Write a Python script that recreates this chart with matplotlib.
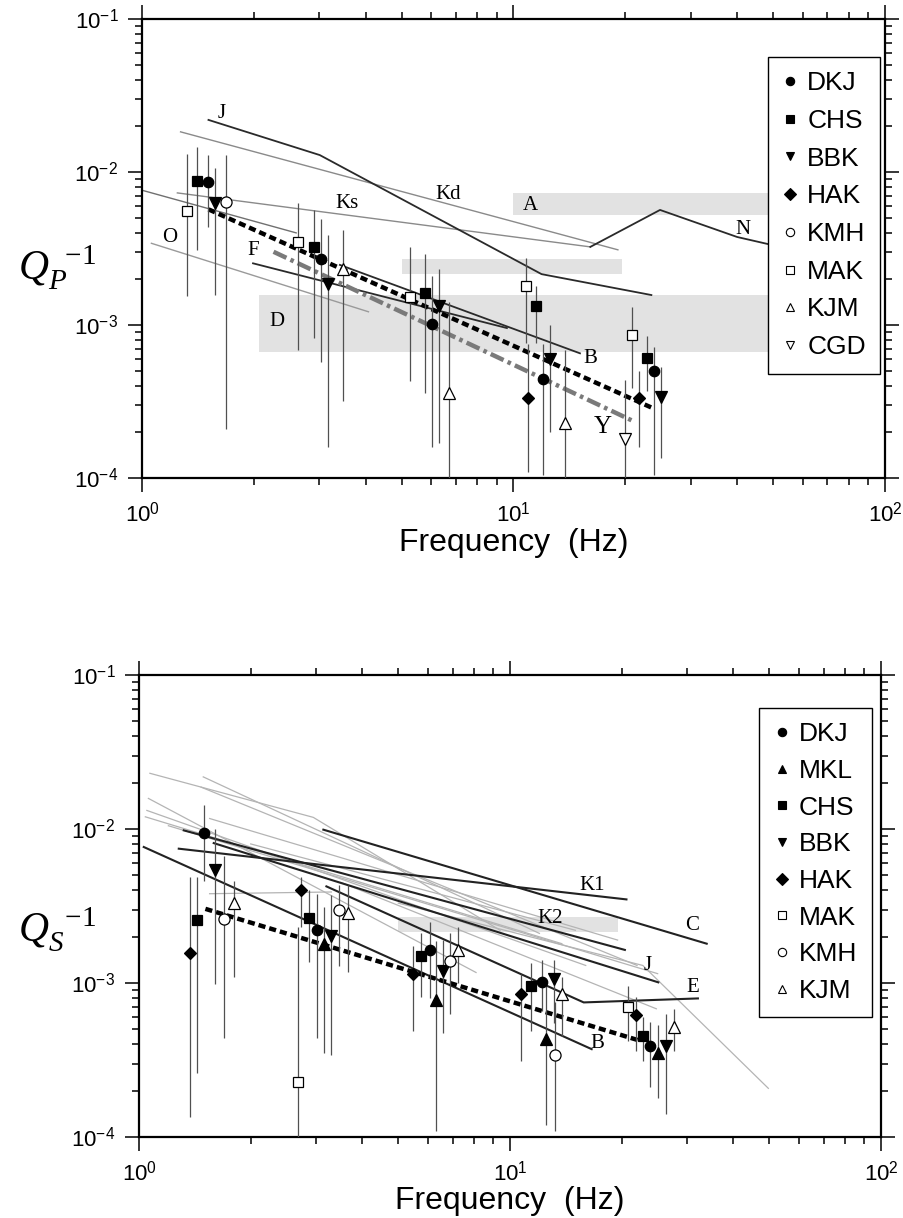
import numpy as np
import matplotlib
matplotlib.use('Agg')
import matplotlib.pyplot as plt
from matplotlib.lines import Line2D
from matplotlib.ticker import LogLocator, FuncFormatter, NullFormatter

plt.rcParams['font.family'] = ['Liberation Sans', 'DejaVu Sans']
plt.rcParams['mathtext.fontset'] = 'custom'
plt.rcParams['mathtext.rm'] = 'Liberation Serif'
plt.rcParams['mathtext.it'] = 'Liberation Serif:italic'
plt.rcParams['mathtext.sf'] = 'Liberation Sans'

# ---------------- TOP PANEL (Qp^-1) data ----------------
p_DKJ_f = [1.51, 3.03, 6.02, 11.98, 23.9]
p_DKJ_q = [8.65e-3, 2.7e-3, 1.02e-3, 4.41e-4, 5.0e-4]
p_DKJ_lo = [4.4e-3, 5.7e-4, 1.6e-4, 1.05e-4, 1.05e-4]
p_DKJ_hi = [1.29e-2, 4.9e-3, 2.1e-3, 7.5e-4, 7.2e-4]

p_CHS_f = [1.41, 2.90, 5.78, 11.5, 22.9]
p_CHS_q = [8.73e-3, 3.25e-3, 1.61e-3, 1.34e-3, 6.1e-4]
p_CHS_lo = [3.09e-3, 8.2e-4, 3.6e-4, 7.6e-4, 3.7e-4]
p_CHS_hi = [1.46e-2, 5.65e-3, 2.9e-3, 1.8e-3, 8.5e-4]

p_BBK_f = [1.57, 3.17, 6.31, 12.5, 25.0]
p_BBK_q = [6.24e-3, 1.85e-3, 1.33e-3, 5.97e-4, 3.37e-4]
p_BBK_lo = [1.57e-3, 1.6e-4, 1.7e-4, 2.0e-4, 1.36e-4]
p_BBK_hi = [1.06e-2, 3.9e-3, 2.34e-3, 1.0e-3, 5.3e-4]

p_HAK_f = [10.96, 21.8]
p_HAK_q = [3.35e-4, 3.32e-4]
p_HAK_lo = [1.1e-4, 1.6e-4]
p_HAK_hi = [7.5e-4, 5.0e-4]

p_KMH_f = [1.68]
p_KMH_q = [6.4e-3]
p_KMH_lo = [2.1e-4]
p_KMH_hi = [1.29e-2]

p_MAK_f = [1.32, 2.63, 5.27, 10.8, 20.9]
p_MAK_q = [5.56e-3, 3.51e-3, 1.52e-3, 1.8e-3, 8.6e-4]
p_MAK_lo = [1.54e-3, 6.9e-4, 4.3e-4, 7.6e-4, 3.9e-4]
p_MAK_hi = [1.32e-2, 6.24e-3, 3.25e-3, 2.75e-3, 1.32e-3]

p_KJM_f = [3.48, 6.72, 13.8]
p_KJM_q = [2.31e-3, 3.58e-4, 2.3e-4]
p_KJM_lo = [3.2e-4, 1.0e-4, 1.0e-4]
p_KJM_hi = [4.2e-3, 1.42e-3, 6.9e-4]

p_CGD_f = [19.9]
p_CGD_q = [1.79e-4]
p_CGD_lo = [1.0e-4]
p_CGD_hi = [4.4e-4]

# reference models (top)
p_J_f = [1.51, 3.01, 11.9, 23.5]
p_J_q = [2.19e-2, 1.29e-2, 2.15e-3, 1.57e-3]
p_Kd_f = [1.27, 19.1]
p_Kd_q = [1.83e-2, 3.1e-3]
p_Ks_f = [1.245, 16.1]
p_Ks_q = [7.3e-3, 3.24e-3]
p_N_f = [16.1, 24.8, 40.0, 60.0]
p_N_q = [3.24e-3, 5.65e-3, 3.76e-3, 3.0e-3]
p_O1_f = [1.0, 2.6]
p_O1_q = [7.6e-3, 4.0e-3]
p_O2_f = [1.06, 4.07]
p_O2_q = [3.42e-3, 1.22e-3]
p_F_f = [1.99, 9.6]
p_F_q = [2.53e-3, 9.55e-4]
p_B_f = [3.41, 15.1]
p_B_q = [2.47e-3, 6.53e-4]
p_fit_f = [1.51, 23.8]
p_fit_q = [5.7e-3, 2.85e-4]
p_Y_f = [2.26, 21.2]
p_Y_q = [3.01e-3, 2.33e-4]

# shaded ranges (top): f_min, f_max, q_min, q_max
p_band_A = [10.0, 50.0, 5.2e-3, 7.3e-3]
p_band_2 = [5.0, 19.6, 2.15e-3, 2.7e-3]
p_band_D = [2.07, 50.0, 6.7e-4, 1.57e-3]

# label positions (top)
p_lab_text = ['J', 'Ks', 'Kd', 'A', 'N', 'O', 'F', 'D', 'B', 'Y']
p_lab_f = [1.64, 3.56, 6.66, 11.1, 41.5, 1.19, 1.99, 2.31, 16.1, 17.4]
p_lab_q = [2.43e-2, 6.18e-3, 7.18e-3, 6.08e-3, 4.18e-3, 3.71e-3, 3.05e-3, 1.05e-3, 6.0e-4, 2.16e-4]

# ---------------- BOTTOM PANEL (Qs^-1) data ----------------
s_DKJ_f = [1.5, 3.01, 6.09, 12.2, 23.9]
s_DKJ_q = [9.42e-3, 2.22e-3, 1.64e-3, 1.01e-3, 3.87e-4]
s_DKJ_lo = [4.6e-3, 4.4e-4, 8.0e-4, 6.6e-4, 2.1e-4]
s_DKJ_hi = [1.43e-2, 3.8e-3, 2.48e-3, 1.4e-3, 5.6e-4]

s_MKL_f = [3.15, 6.3, 12.5, 25.0]
s_MKL_q = [1.8e-3, 7.76e-4, 4.3e-4, 3.49e-4]
s_MKL_lo = [3.5e-4, 1.1e-4, 1.2e-4, 1.8e-4]
s_MKL_hi = [3.1e-3, 1.88e-3, 9.5e-4, 5.3e-4]

s_CHS_f = [1.43, 2.87, 5.75, 11.4, 22.9]
s_CHS_q = [2.58e-3, 2.65e-3, 1.49e-3, 9.5e-4, 4.55e-4]
s_CHS_lo = [2.6e-4, 1.37e-3, 8.1e-4, 4.9e-4, 3.1e-4]
s_CHS_hi = [4.88e-3, 4.0e-3, 2.1e-3, 1.35e-3, 6.0e-4]

s_BBK_f = [1.60, 3.29, 6.59, 13.1, 26.3]
s_BBK_q = [5.45e-3, 2.03e-3, 1.19e-3, 1.06e-3, 3.92e-4]
s_BBK_lo = [9.8e-4, 3.4e-4, 4.7e-4, 5.5e-4, 1.4e-4]
s_BBK_hi = [1.0e-2, 3.7e-3, 1.9e-3, 1.4e-3, 6.3e-4]

s_HAK_f = [1.37, 2.73, 5.47, 10.7, 21.9]
s_HAK_q = [1.57e-3, 3.99e-3, 1.15e-3, 8.5e-4, 6.2e-4]
s_HAK_lo = [1.34e-4, 2.3e-3, 4.9e-4, 3.1e-4, 3.6e-4]
s_HAK_hi = [4.88e-3, 4.9e-3, 1.75e-3, 1.15e-3, 8.1e-4]

s_MAK_f = [2.68, 20.8]
s_MAK_q = [2.26e-4, 6.95e-4]
s_MAK_lo = [1.0e-4, 4.2e-4]
s_MAK_hi = [2.3e-3, 9.6e-4]

s_KMH_f = [1.69, 3.45, 6.89, 13.2]
s_KMH_q = [2.61e-3, 2.96e-3, 1.38e-3, 3.4e-4]
s_KMH_lo = [4.4e-4, 1.28e-3, 6.3e-4, 1.1e-4]
s_KMH_hi = [6.7e-3, 4.3e-3, 2.1e-3, 7.5e-4]

s_KJM_f = [1.80, 3.67, 7.26, 13.8, 27.6]
s_KJM_q = [3.33e-3, 2.85e-3, 1.64e-3, 8.5e-4, 5.15e-4]
s_KJM_lo = [1.09e-3, 1.18e-3, 1.0e-3, 4.5e-4, 3.6e-4]
s_KJM_hi = [4.6e-3, 4.3e-3, 2.3e-3, 1.1e-3, 6.8e-4]

# reference models (bottom) - dark
s_K1_f = [1.28, 20.6]
s_K1_q = [7.45e-3, 3.49e-3]
s_K2_f = [1.32, 20.4]
s_K2_q = [9.8e-3, 1.64e-3]
s_C_f = [3.14, 33.9]
s_C_q = [9.9e-3, 1.8e-3]
s_J_f = [1.59, 25.1]
s_J_q = [8.1e-3, 1.01e-3]
s_E_f = [3.2, 15.8, 32.1]
s_E_q = [4.24e-3, 7.48e-4, 7.94e-4]
s_B_f = [1.03, 16.6]
s_B_q = [7.64e-3, 3.72e-4]
s_fit_f = [1.51, 22.4]
s_fit_q = [3.03e-3, 4.22e-4]

# reference models (bottom) - light grey bundle
s_g1_f = [1.07, 2.95, 9.4]
s_g1_q = [2.3e-2, 1.19e-2, 2.2e-3]
s_g2_f = [1.49, 12.0]
s_g2_q = [2.18e-2, 2.1e-3]
s_g3_f = [1.47, 22.0]
s_g3_q = [1.87e-2, 1.3e-3]
s_g4_f = [1.06, 8.1]
s_g4_q = [1.58e-2, 1.17e-3]
s_g5_f = [1.05, 16.0]
s_g5_q = [1.32e-2, 1.3e-3]
s_g6_f = [1.04, 13.8]
s_g6_q = [1.2e-2, 1.8e-3]
s_g7_f = [1.55, 19.5]
s_g7_q = [1.17e-2, 1.9e-3]
s_g8_f = [1.55, 3.3]
s_g8_q = [3.8e-3, 3.9e-3]
s_g9_f = [1.2, 25.0]
s_g9_q = [1.05e-2, 1.15e-3]
s_g10_f = [2.0, 15.0]
s_g10_q = [8.0e-3, 2.2e-3]
s_g11_f = [5.0, 22.8, 49.7]
s_g11_q = [3.3e-3, 1.3e-3, 2.07e-4]
s_g12_f = [3.5, 24.8]
s_g12_q = [4.5e-3, 6.8e-4]

s_band_K2 = [5.0, 19.6, 2.14e-3, 2.67e-3]

s_lab_text = ['K1', 'K2', 'C', 'J', 'E', 'B']
s_lab_f = [16.6, 12.8, 30.9, 23.5, 31.1, 17.2]
s_lab_q = [4.31e-3, 2.62e-3, 2.36e-3, 1.30e-3, 9.33e-4, 4.04e-4]

# ---------------- styling helpers ----------------
STYLE = {
    'DKJ': dict(marker='o', mfc='black', ms=7.5),
    'CHS': dict(marker='s', mfc='black', ms=7),
    'BBK': dict(marker='v', mfc='black', ms=8.5),
    'HAK': dict(marker='D', mfc='black', ms=6.5),
    'KMH': dict(marker='o', mfc='white', ms=8),
    'MAK': dict(marker='s', mfc='white', ms=7.5),
    'KJM': dict(marker='^', mfc='white', ms=9),
    'CGD': dict(marker='v', mfc='white', ms=9),
    'MKL': dict(marker='^', mfc='black', ms=8.5),
}


def plot_station(ax, name, f, q, lo, hi):
    ax.vlines(f, lo, hi, color='#505050', lw=0.9, zorder=4)
    st = STYLE[name]
    ax.plot(f, q, ls='none', marker=st['marker'], mfc=st['mfc'], mec='black',
            mew=0.9, ms=st['ms'], zorder=6)


def band(ax, b):
    ax.fill_between([b[0], b[1]], [b[2], b[2]], [b[3], b[3]], color='#e2e2e2',
                    lw=0, zorder=0)


def style_axes(ax):
    ax.set_xscale('log')
    ax.set_yscale('log')
    ax.set_xlim(1, 100)
    ax.set_ylim(1e-4, 1e-1)
    for s in ax.spines.values():
        s.set_linewidth(1.6)
    fmt = FuncFormatter(lambda v, p: r'$\mathsf{10}^{\mathsf{%d}}$' % int(round(np.log10(v))))
    ax.xaxis.set_major_locator(LogLocator(base=10, numticks=10))
    ax.yaxis.set_major_locator(LogLocator(base=10, numticks=10))
    ax.xaxis.set_minor_locator(LogLocator(base=10, subs=np.arange(2, 10), numticks=10))
    ax.yaxis.set_minor_locator(LogLocator(base=10, subs=np.arange(2, 10), numticks=10))
    ax.xaxis.set_major_formatter(fmt)
    ax.yaxis.set_major_formatter(fmt)
    ax.xaxis.set_minor_formatter(NullFormatter())
    ax.yaxis.set_minor_formatter(NullFormatter())
    ax.tick_params(which='both', direction='out', top=True, right=True,
                   labelsize=16, width=1.1)
    ax.tick_params(which='major', length=10, pad=7)
    ax.tick_params(which='minor', length=5)
    ax.set_xlabel('Frequency  (Hz)', fontsize=23, labelpad=1)


def make_legend(ax, names, anchor, spacing):
    handles = []
    for n in names:
        st = STYLE[n]
        handles.append(Line2D([], [], ls='none', marker=st['marker'], mfc=st['mfc'],
                              mec='black', mew=0.8, ms=6))
    leg = ax.legend(handles, names, loc='upper left', bbox_to_anchor=anchor,
                    borderaxespad=0, fontsize=19, frameon=True, fancybox=False,
                    edgecolor='black', framealpha=1, handlelength=0.6,
                    handletextpad=0.35, labelspacing=spacing, borderpad=0.55)
    leg.get_frame().set_linewidth(1.0)
    leg.set_zorder(20)
    return leg


fig = plt.figure(figsize=(9.04, 12.18), dpi=100)
ax1 = fig.add_axes([142 / 904, 1 - 478 / 1218, 743 / 904, 459 / 1218])
ax2 = fig.add_axes([139 / 904, 1 - 1137 / 1218, 742 / 904, 462 / 1218])

# ---------- top ----------
ax = ax1
band(ax, p_band_A)
band(ax, p_band_2)
band(ax, p_band_D)
ax.plot(p_J_f, p_J_q, color='#2a2a2a', lw=1.3, zorder=2)
ax.plot(p_Kd_f, p_Kd_q, color='#8a8a8a', lw=1.0, zorder=1)
ax.plot(p_Ks_f, p_Ks_q, color='#8a8a8a', lw=1.0, zorder=1)
ax.plot(p_N_f, p_N_q, color='#2a2a2a', lw=1.3, zorder=2)
ax.plot(p_O1_f, p_O1_q, color='#707070', lw=1.0, zorder=1)
ax.plot(p_O2_f, p_O2_q, color='#9a9a9a', lw=1.0, zorder=1)
ax.plot(p_F_f, p_F_q, color='#2a2a2a', lw=1.3, zorder=2)
ax.plot(p_B_f, p_B_q, color='#2a2a2a', lw=1.3, zorder=2)
ax.plot(p_Y_f, p_Y_q, color='#7a7a7a', lw=3.2, zorder=3,
        dashes=(3.2, 1.0, 0.8, 1.0))
ax.plot(p_fit_f, p_fit_q, color='black', lw=3.2, zorder=3, dashes=(1.6, 0.9))
plot_station(ax, 'DKJ', p_DKJ_f, p_DKJ_q, p_DKJ_lo, p_DKJ_hi)
plot_station(ax, 'CHS', p_CHS_f, p_CHS_q, p_CHS_lo, p_CHS_hi)
plot_station(ax, 'BBK', p_BBK_f, p_BBK_q, p_BBK_lo, p_BBK_hi)
plot_station(ax, 'HAK', p_HAK_f, p_HAK_q, p_HAK_lo, p_HAK_hi)
plot_station(ax, 'KMH', p_KMH_f, p_KMH_q, p_KMH_lo, p_KMH_hi)
plot_station(ax, 'MAK', p_MAK_f, p_MAK_q, p_MAK_lo, p_MAK_hi)
plot_station(ax, 'KJM', p_KJM_f, p_KJM_q, p_KJM_lo, p_KJM_hi)
plot_station(ax, 'CGD', p_CGD_f, p_CGD_q, p_CGD_lo, p_CGD_hi)
for t, f, q in zip(p_lab_text, p_lab_f, p_lab_q):
    ax.text(f, q, t, fontsize=18 if t == 'Y' else 15, family='Liberation Serif',
            ha='center', va='center', zorder=7)
style_axes(ax)
make_legend(ax, ['DKJ', 'CHS', 'BBK', 'HAK', 'KMH', 'MAK', 'KJM', 'CGD'],
            (0.842, 0.918), 0.52)

# ---------- bottom ----------
ax = ax2
band(ax, s_band_K2)
for gf, gq in [(s_g1_f, s_g1_q), (s_g2_f, s_g2_q), (s_g3_f, s_g3_q), (s_g4_f, s_g4_q),
               (s_g5_f, s_g5_q), (s_g6_f, s_g6_q), (s_g7_f, s_g7_q), (s_g8_f, s_g8_q),
               (s_g9_f, s_g9_q), (s_g10_f, s_g10_q), (s_g11_f, s_g11_q), (s_g12_f, s_g12_q)]:
    ax.plot(gf, gq, color='#b4b4b4', lw=0.9, zorder=1)
for df, dq in [(s_K1_f, s_K1_q), (s_K2_f, s_K2_q), (s_C_f, s_C_q), (s_J_f, s_J_q),
               (s_E_f, s_E_q), (s_B_f, s_B_q)]:
    ax.plot(df, dq, color='#222222', lw=1.5, zorder=2)
ax.plot(s_fit_f, s_fit_q, color='black', lw=3.2, zorder=3, dashes=(1.6, 0.9))
plot_station(ax, 'DKJ', s_DKJ_f, s_DKJ_q, s_DKJ_lo, s_DKJ_hi)
plot_station(ax, 'MKL', s_MKL_f, s_MKL_q, s_MKL_lo, s_MKL_hi)
plot_station(ax, 'CHS', s_CHS_f, s_CHS_q, s_CHS_lo, s_CHS_hi)
plot_station(ax, 'BBK', s_BBK_f, s_BBK_q, s_BBK_lo, s_BBK_hi)
plot_station(ax, 'HAK', s_HAK_f, s_HAK_q, s_HAK_lo, s_HAK_hi)
plot_station(ax, 'MAK', s_MAK_f, s_MAK_q, s_MAK_lo, s_MAK_hi)
plot_station(ax, 'KMH', s_KMH_f, s_KMH_q, s_KMH_lo, s_KMH_hi)
plot_station(ax, 'KJM', s_KJM_f, s_KJM_q, s_KJM_lo, s_KJM_hi)
for t, f, q in zip(s_lab_text, s_lab_f, s_lab_q):
    ax.text(f, q, t, fontsize=15, family='Liberation Serif',
            ha='center', va='center', zorder=7)
style_axes(ax)
make_legend(ax, ['DKJ', 'MKL', 'CHS', 'BBK', 'HAK', 'MAK', 'KMH', 'KJM'],
            (0.836, 0.929), 0.48)

# y labels
fig.text(18 / 904, 1 - 268 / 1218, r'$Q_{P}^{\ \ \mathrm{-1}}$', fontsize=30,
         ha='left', va='center')
fig.text(18 / 904, 1 - 930 / 1218, r'$Q_{S}^{\ \ \mathrm{-1}}$', fontsize=30,
         ha='left', va='center')

fig.savefig('out.png', dpi=100)
